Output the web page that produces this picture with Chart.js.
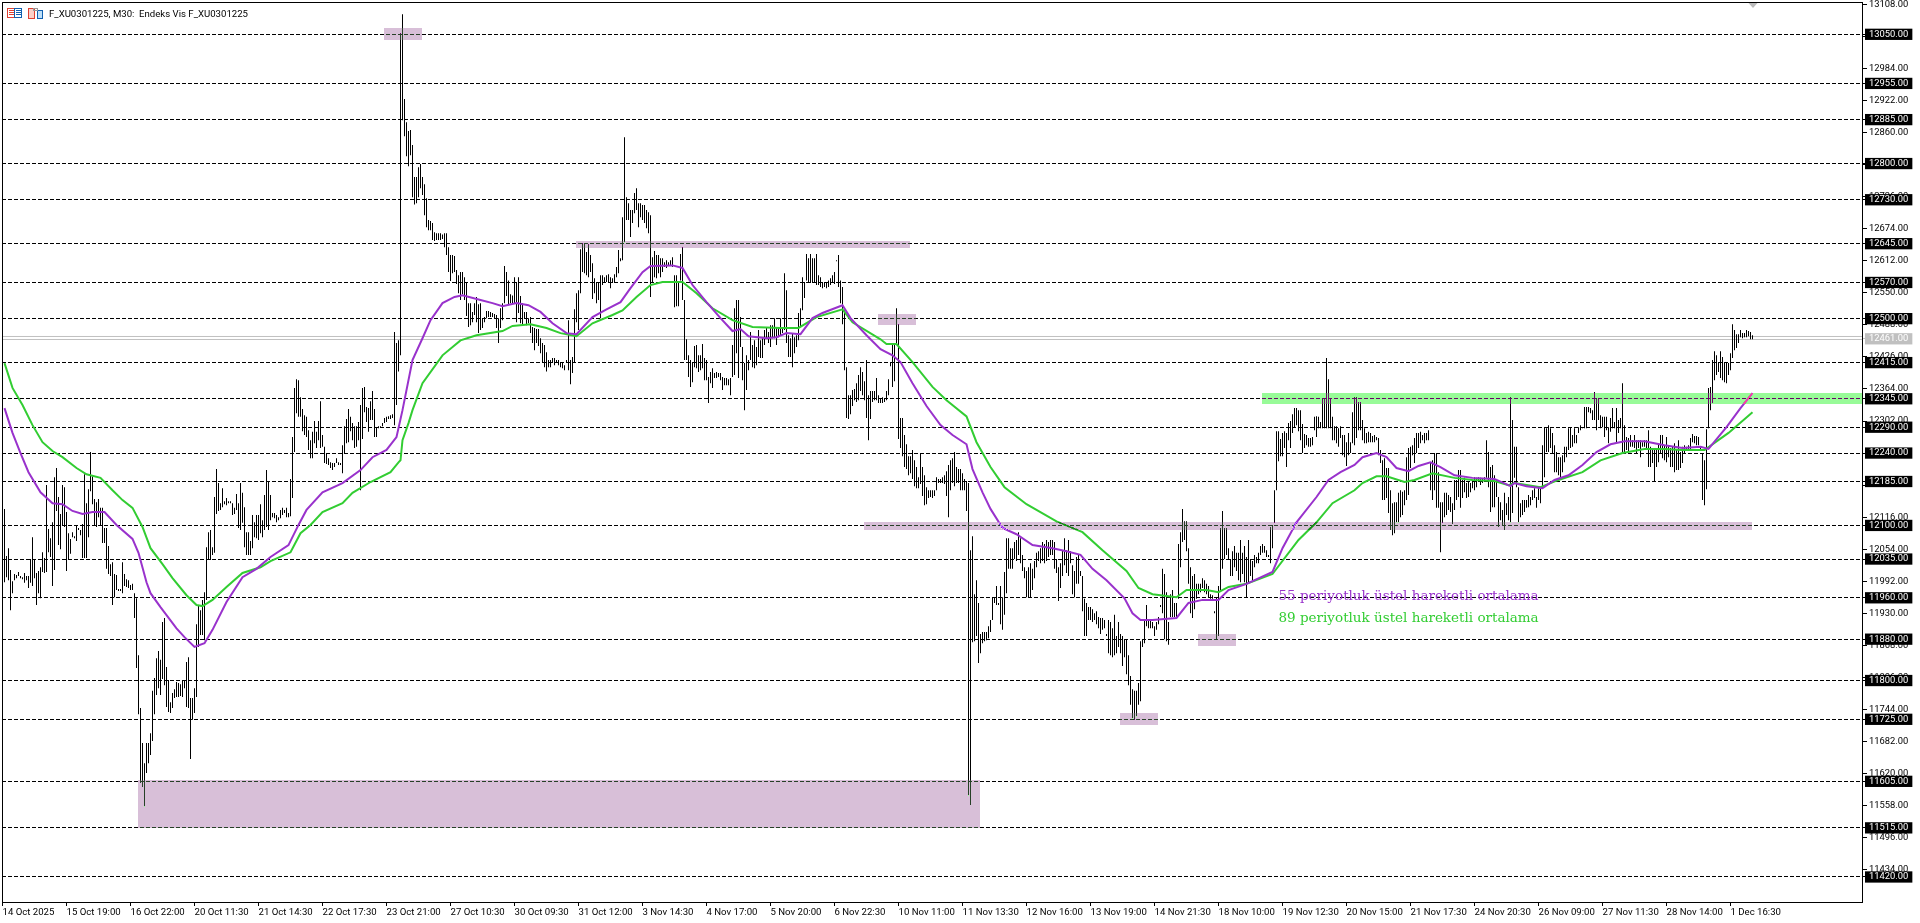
<!DOCTYPE html>
<html><head><meta charset="utf-8"><title>F_XU0301225, M30</title>
<style>html,body{margin:0;padding:0;background:#fff;overflow:hidden}canvas{display:block}</style>
<script src="https://cdn.jsdelivr.net/npm/chart.js@4"></script></head>
<body><canvas id="c" width="1920" height="923"></canvas>
<script>
const titleText = 'F_XU0301225, M30:  Endeks Vis F_XU0301225';
const xTickLabels = ['14 Oct 2025','15 Oct 19:00','16 Oct 22:00','20 Oct 11:30','21 Oct 14:30','22 Oct 17:30','23 Oct 21:00','27 Oct 10:30','30 Oct 09:30','31 Oct 12:00','3 Nov 14:30','4 Nov 17:00','5 Nov 20:00','6 Nov 22:30','10 Nov 11:00','11 Nov 13:30','12 Nov 16:00','13 Nov 19:00','14 Nov 21:30','18 Nov 10:00','19 Nov 12:30','20 Nov 15:00','21 Nov 17:30','24 Nov 20:30','26 Nov 09:00','27 Nov 11:30','28 Nov 14:00','1 Dec 16:30'];
const yAxisTicks = [13108,13046,12984,12922,12860,12798,12736,12674,12612,12550,12488,12426,12364,12302,12240,12178,12116,12054,11992,11930,11868,11806,11744,11682,11620,11558,11496,11434];
const levels = [13050,12955,12885,12800,12730,12645,12570,12500,12415,12345,12290,12240,12185,12100,12035,11960,11880,11800,11725,11605,11515,11420];
const lastPrice = 12461;
const askBidLines = [12465.5,12459.7];
// high, low pairs of each 30-minute bar, 32 bars per row
const hiLo = [
12210,12140,12132,11990,12041,12000,12056,11994,12014,11936,11992,11969,12006,11994,12004,11998,12010,12002,12002,11998,12000,11996,12008,11989,12002,11994,12002,11979,12035,11989,12077,11983,12033,11998,12008,11946,12012,11969,12019,11959,12048,12010,12037,12008,12178,12010,12093,12048,12075,12039,12106,11983,12193,12014,12211,12128,12155,12062,12122,12054,12178,12099,12174,12097,
12126,12012,12085,12035,12074,12045,12087,12077,12079,12075,12101,12070,12095,12091,12091,12081,12103,12037,12199,12037,12143,12037,12170,12077,12242,12166,12195,12141,12151,12099,12145,12097,12151,12116,12134,12101,12134,12066,12095,12066,12095,12016,12060,12006,12025,12002,12029,11946,12006,11961,12004,11975,11977,11973,11977,11973,12029,11969,12006,11983,11996,11981,11994,11979,
11985,11975,11987,11975,11969,11921,11959,11824,11849,11735,11747,11602,11679,11594,11640,11557,11679,11621,11679,11640,11698,11656,11780,11683,11805,11735,11843,11772,11857,11785,11840,11772,11913,11803,11921,11791,11826,11749,11801,11739,11758,11737,11776,11747,11783,11766,11797,11768,11795,11768,11793,11770,11801,11768,11801,11785,11836,11749,11845,11747,11766,11648,11766,11724,
11785,11737,11909,11768,11946,11865,11936,11888,11956,11888,11971,11878,12058,11956,12087,12033,12091,12033,12058,12043,12155,12047,12209,12122,12182,12128,12143,12130,12172,12135,12147,12141,12153,12139,12147,12143,12147,12143,12143,12120,12134,12122,12161,12130,12143,12095,12182,12091,12163,12105,12135,12058,12087,12043,12087,12043,12070,12043,12120,12056,12106,12077,12120,12075,
12120,12072,12141,12085,12110,12077,12159,12091,12207,12097,12186,12091,12159,12110,12124,12116,12124,12114,12120,12106,12116,12110,12130,12114,12134,12120,12130,12124,12134,12116,12124,12116,12190,12118,12271,12153,12366,12242,12383,12317,12381,12310,12348,12310,12325,12282,12313,12275,12310,12271,12284,12246,12265,12230,12281,12230,12302,12259,12281,12250,12302,12265,12340,12250,
12275,12252,12252,12221,12238,12219,12230,12217,12222,12211,12221,12207,12221,12213,12230,12221,12222,12217,12221,12217,12255,12201,12292,12240,12306,12259,12325,12261,12310,12282,12298,12265,12292,12250,12292,12252,12300,12265,12333,12168,12366,12267,12368,12319,12329,12300,12327,12281,12340,12304,12360,12304,12325,12271,12290,12271,12292,12288,12292,12290,12298,12292,12308,12298,
12310,12300,12311,12306,12313,12306,12315,12308,12474,12294,12453,12333,12458,12398,13052,12429,13089,12884,12925,12853,12880,12814,12863,12795,12865,12816,12836,12735,12774,12721,12774,12723,12793,12735,12799,12752,12774,12739,12760,12700,12733,12677,12691,12671,12689,12671,12685,12652,12667,12650,12665,12652,12665,12652,12665,12652,12663,12654,12665,12638,12665,12623,12638,12590,
12623,12573,12623,12588,12621,12590,12594,12567,12584,12549,12590,12536,12590,12547,12580,12536,12571,12505,12530,12484,12530,12487,12513,12493,12530,12507,12542,12493,12528,12472,12530,12478,12501,12482,12503,12493,12515,12501,12515,12503,12513,12503,12511,12503,12509,12501,12507,12482,12501,12453,12520,12482,12530,12497,12602,12530,12590,12544,12574,12528,12547,12530,12545,12530,
12580,12530,12571,12493,12580,12511,12544,12491,12530,12487,12513,12501,12513,12487,12501,12491,12503,12472,12484,12453,12482,12439,12480,12453,12480,12447,12462,12433,12453,12414,12449,12406,12435,12398,12420,12406,12420,12406,12424,12414,12424,12410,12420,12414,12420,12410,12416,12406,12414,12404,12410,12400,12420,12414,12497,12400,12420,12373,12426,12395,12518,12414,12549,12493,
12555,12478,12634,12549,12646,12590,12646,12588,12629,12584,12644,12580,12623,12590,12607,12538,12578,12549,12571,12530,12571,12536,12584,12501,12584,12565,12580,12569,12584,12571,12586,12569,12580,12559,12578,12569,12586,12569,12600,12580,12633,12588,12617,12611,12696,12613,12851,12648,12735,12691,12723,12691,12710,12658,12710,12685,12743,12704,12752,12710,12723,12677,12723,12696,
12720,12691,12720,12685,12710,12675,12706,12665,12700,12542,12619,12571,12631,12580,12623,12578,12623,12588,12617,12580,12617,12590,12609,12600,12613,12598,12609,12603,12613,12603,12619,12600,12584,12522,12584,12524,12569,12524,12625,12574,12638,12536,12536,12420,12460,12420,12429,12387,12420,12368,12414,12377,12447,12406,12449,12404,12429,12397,12429,12400,12451,12404,12424,12381,
12420,12381,12387,12337,12397,12375,12404,12366,12395,12385,12397,12385,12395,12387,12395,12381,12387,12362,12385,12371,12385,12371,12383,12371,12385,12352,12449,12387,12520,12391,12536,12433,12536,12385,12503,12445,12445,12381,12414,12323,12429,12362,12420,12400,12474,12420,12449,12406,12458,12404,12445,12410,12478,12426,12458,12424,12462,12424,12478,12449,12484,12462,12474,12453,
12487,12445,12487,12462,12501,12462,12484,12449,12484,12464,12501,12468,12484,12472,12588,12478,12555,12453,12468,12426,12462,12426,12472,12406,12464,12433,12468,12445,12511,12458,12520,12484,12580,12516,12571,12540,12625,12574,12617,12569,12625,12569,12617,12571,12617,12569,12625,12565,12584,12565,12580,12561,12571,12559,12571,12561,12571,12559,12574,12561,12578,12565,12584,12569,
12590,12567,12613,12611,12623,12561,12574,12530,12561,12489,12516,12400,12406,12308,12352,12306,12352,12315,12362,12331,12364,12342,12375,12339,12391,12342,12406,12360,12397,12352,12379,12342,12420,12308,12352,12265,12360,12306,12360,12339,12360,12342,12385,12342,12352,12337,12346,12337,12348,12337,12346,12339,12360,12342,12383,12352,12416,12408,12449,12368,12449,12379,12520,12449,
12489,12267,12308,12250,12308,12234,12275,12213,12257,12209,12234,12197,12234,12201,12246,12190,12226,12176,12213,12172,12193,12172,12238,12180,12213,12157,12197,12139,12174,12141,12168,12153,12168,12155,12168,12153,12168,12157,12193,12168,12190,12182,12190,12182,12193,12182,12197,12180,12205,12157,12217,12116,12226,12168,12230,12182,12242,12176,12213,12182,12209,12182,12209,12168,
12201,12168,12190,12168,12186,12128,12182,11578,12052,11559,12079,11874,11967,11876,11994,11886,11950,11834,11890,11853,11894,11872,11894,11876,11894,11878,11905,11882,11917,11894,11961,11917,11961,11950,11983,11946,11950,11946,11983,11909,11961,11898,12010,11927,12075,11969,12075,12016,12056,12016,12056,12016,12068,12035,12072,12031,12087,12043,12075,12027,12043,12012,12019,11998,
12012,11961,12019,11961,12027,11961,12016,11975,12031,11998,12047,12019,12050,12031,12056,12027,12068,12031,12064,12027,12072,12031,12068,12039,12072,12043,12072,12043,12068,12016,12035,12008,12019,11954,12027,11979,12052,12002,12075,12023,12052,12008,12072,12002,12050,12027,12023,11967,12012,11961,12039,11987,12043,11987,12012,12002,12002,11934,11958,11886,11950,11886,11942,11917,
11942,11917,11938,11913,11930,11917,11934,11909,11923,11901,11921,11890,11921,11898,11917,11901,11890,11886,11917,11853,11913,11849,11901,11845,11927,11849,11886,11853,11913,11865,11890,11853,11886,11828,11880,11845,11880,11812,11849,11791,11809,11753,11783,11727,11780,11724,11780,11731,11795,11753,11876,11760,11880,11865,11917,11872,11946,11905,11917,11901,11917,11901,11913,11901,
11905,11886,11913,11898,11923,11909,11946,11942,12016,11930,12006,11880,11971,11876,11913,11869,11967,11923,11975,11923,11950,11923,11950,11923,12064,11958,12087,12019,12132,12068,12108,12072,12108,12050,12056,11987,12019,11930,12002,11921,12006,11938,11987,11958,11987,11967,11987,11971,11998,11979,11994,11971,11987,11967,11983,11961,11967,11958,11965,11958,11934,11930,11961,11880,
11983,11886,12095,11975,12128,12016,12095,12035,12095,12043,12056,12035,12035,12002,12050,12002,12060,12019,12047,12012,12047,11994,12072,11990,12047,12006,12060,11990,12039,11961,12072,11987,12035,12002,12031,11994,12043,12019,12039,12027,12047,12027,12060,12043,12064,12047,12060,12047,12052,12039,12043,12039,12097,12027,12101,12056,12168,12105,12282,12168,12282,12224,12267,12234,
12279,12234,12282,12250,12279,12213,12298,12265,12302,12250,12315,12279,12327,12290,12327,12294,12323,12282,12323,12265,12296,12240,12277,12250,12275,12255,12269,12252,12269,12252,12271,12255,12310,12284,12311,12271,12310,12288,12300,12288,12344,12288,12346,12288,12424,12288,12383,12288,12346,12288,12310,12265,12292,12265,12292,12259,12288,12252,12292,12269,12275,12236,12275,12232,
12261,12215,12279,12236,12261,12240,12319,12259,12348,12255,12348,12269,12339,12284,12339,12284,12304,12265,12288,12259,12279,12259,12281,12261,12279,12261,12273,12261,12275,12261,12271,12265,12269,12236,12246,12221,12226,12149,12230,12149,12211,12153,12211,12124,12168,12091,12143,12081,12145,12085,12145,12106,12163,12106,12168,12116,12165,12120,12168,12139,12232,12149,12250,12159,
12252,12211,12255,12236,12269,12221,12279,12240,12279,12250,12281,12259,12275,12265,12279,12259,12279,12265,12284,12265,12221,12168,12226,12149,12240,12168,12240,12134,12203,12134,12145,12048,12145,12105,12163,12116,12163,12120,12159,12130,12155,12126,12143,12103,12188,12130,12188,12149,12207,12155,12207,12134,12188,12153,12192,12164,12182,12153,12184,12155,12182,12164,12188,12172,
12193,12168,12192,12174,12193,12184,12192,12178,12190,12182,12193,12184,12265,12192,12242,12174,12213,12126,12217,12135,12197,12135,12188,12155,12155,12097,12145,12110,12130,12101,12163,12091,12143,12120,12155,12110,12348,12106,12304,12124,12252,12192,12252,12174,12174,12106,12143,12116,12149,12120,12149,12126,12149,12134,12159,12135,12155,12139,12168,12149,12172,12153,12155,12134,
12172,12149,12172,12143,12255,12172,12290,12193,12288,12242,12294,12242,12288,12250,12279,12240,12255,12203,12242,12203,12232,12197,12232,12193,12236,12203,12252,12222,12252,12232,12288,12246,12290,12250,12275,12252,12288,12259,12275,12259,12290,12279,12294,12284,12290,12288,12329,12288,12329,12288,12329,12319,12327,12317,12323,12304,12358,12304,12346,12284,12346,12304,12313,12288,
12310,12290,12310,12271,12310,12284,12290,12259,12308,12281,12327,12288,12300,12288,12327,12259,12304,12279,12308,12288,12375,12240,12294,12242,12271,12246,12269,12242,12275,12252,12265,12252,12275,12250,12265,12240,12265,12250,12265,12232,12261,12252,12265,12252,12265,12250,12284,12213,12252,12213,12246,12221,12250,12184,12246,12213,12259,12222,12275,12240,12275,12230,12255,12226,
12271,12222,12255,12232,12250,12213,12252,12213,12259,12203,12246,12207,12265,12207,12242,12211,12252,12221,12255,12240,12252,12246,12255,12246,12269,12246,12277,12261,12273,12259,12273,12255,12271,12255,12252,12246,12238,12149,12226,12139,12286,12170,12366,12288,12368,12323,12420,12337,12437,12381,12429,12391,12416,12397,12437,12385,12426,12381,12416,12377,12416,12375,12414,12391,
12433,12400,12489,12424,12478,12439,12470,12443,12470,12453,12478,12464,12472,12462,12472,12464,12478,12464,12476,12466,12474,12460,12468,12460
];
const ema55Bars = [1,5,9,13,19,25,30,35,40,45,51,57,65,68,72,74,79,87,91,96,101,105,112,120,127,134,143,148,152,160,170,179,185,192,197,200,205,210,214,220,226,230,239,245,250,257,263,269,275,282,287,295,302,309,314,320,324,335,340,345,352,359,365,369,373,382,387,392,399,405,410,420,424,432,439,445,449,455,462,469,475,482,485,490,494,500,507,515,525,532,539,545,552,561,565,569,575,587,593,600,608,613,622,635,640,647,657,663,669,676,680,687,692,697,703,708,714,719,726,735,746,754,756,762,770,776,783,790,797,804,811,821,831,840,849,853,862,869,875];
const ema55 = [12327,12279,12240,12203,12164,12143,12141,12128,12122,12126,12126,12101,12074,12047,11990,11969,11942,11901,11884,11865,11872,11898,11952,12000,12016,12039,12062,12101,12130,12164,12182,12207,12232,12246,12271,12323,12420,12462,12497,12530,12542,12545,12536,12530,12524,12530,12526,12513,12491,12472,12470,12503,12518,12532,12559,12590,12602,12603,12598,12565,12532,12501,12476,12480,12466,12462,12464,12472,12470,12501,12511,12526,12501,12468,12441,12429,12416,12375,12331,12294,12275,12257,12209,12164,12132,12095,12083,12062,12056,12050,12043,12016,11994,11959,11930,11917,11917,11921,11950,11956,11956,11975,11987,12010,12056,12106,12155,12188,12203,12217,12232,12240,12232,12211,12205,12215,12222,12213,12197,12192,12190,12176,12182,12176,12172,12188,12197,12217,12242,12257,12263,12263,12255,12250,12252,12248,12290,12327,12356];
const ema89Bars = [1,5,10,15,20,25,30,37,42,49,55,60,65,70,74,80,85,92,97,100,105,112,120,129,134,144,149,154,160,170,175,184,194,198,199,200,203,205,210,220,229,237,250,255,264,272,279,287,295,305,310,317,324,330,340,347,355,365,375,389,398,407,420,425,439,442,447,455,465,472,482,487,494,501,512,527,540,550,562,568,575,587,592,602,608,613,622,635,648,657,665,676,680,687,692,701,706,715,726,735,746,753,756,769,778,790,799,810,821,831,840,851,863,875];
const ema89 = [12414,12366,12333,12294,12261,12244,12232,12211,12199,12192,12168,12149,12134,12097,12056,12025,11998,11965,11946,11944,11956,11981,12008,12019,12031,12048,12085,12101,12126,12143,12163,12184,12203,12222,12226,12265,12298,12323,12375,12429,12458,12468,12476,12486,12489,12482,12472,12466,12491,12507,12516,12542,12565,12571,12571,12549,12520,12497,12484,12482,12482,12503,12518,12493,12460,12451,12451,12416,12368,12342,12311,12261,12213,12174,12141,12108,12087,12052,12012,11979,11967,11961,11975,11975,11971,11981,11987,12006,12072,12106,12143,12168,12182,12195,12195,12184,12188,12201,12192,12188,12186,12178,12182,12174,12188,12203,12226,12240,12248,12248,12246,12246,12279,12319];
const zoneFromBar = [191,287,438,630,431,598,559,68];
const zoneToBar   = [210,454,457,930,875,617,578,489];
const zoneTop     = [13062,12650,12509,12356,12106,11890,11737,11607];
const zoneBottom  = [13039,12636,12488,12335,12091,11867,11714,11515];
const zoneColor   = ['#D8BFD8','#D8BFD8','#D8BFD8','#98FB98','#D8BFD8','#D8BFD8','#D8BFD8','#D8BFD8'];
const noteTexts = ['55 periyotluk üstel hareketli ortalama','89 periyotluk üstel hareketli ortalama'];
const noteColors = ['#9932CC','#32CD32'];
const noteBar = [638,638];
const notePrice = [11956,11913];

const barsData = [];
for (let i = 0; i * 2 < hiLo.length; i++) barsData.push({x: i, y: [hiLo[2*i+1], hiLo[2*i]]});
const pairUp = (xs, ys) => xs.map((x, i) => ({x, y: ys[i]}));
const X_MIN = -0.25, X_MAX = 929.75;
const FONT = 'Roboto,"Liberation Sans",sans-serif';

const whiteBack = {
  id: 'whiteBack',
  beforeDraw(chart) {
    const {ctx, width, height} = chart;
    ctx.save(); ctx.fillStyle = '#fff'; ctx.fillRect(0, 0, width, height); ctx.restore();
  }
};
const xorZones = {
  id: 'xorZones',
  afterDraw(chart) {
    const {ctx, scales: {x, y}} = chart;
    zoneFromBar.forEach((b, k) => {
      const x0 = Math.floor(x.getPixelForValue(b));
      const x1 = Math.floor(x.getPixelForValue(zoneToBar[k]));
      const y0 = Math.round(y.getPixelForValue(zoneTop[k]));
      const y1 = Math.round(y.getPixelForValue(zoneBottom[k]));
      const hex = zoneColor[k];
      const c = [1,3,5].map(n => 255 - parseInt(hex.substr(n, 2), 16));
      const im = ctx.getImageData(x0, y0, x1 - x0, y1 - y0);
      for (let p = 0; p < im.data.length; p += 4) {
        im.data[p] ^= c[0]; im.data[p+1] ^= c[1]; im.data[p+2] ^= c[2];
      }
      ctx.putImageData(im, x0, y0);
    });
  }
};
const decor = {
  id: 'decor',
  afterDraw(chart) {
    const {ctx, chartArea: a, scales: {x, y}} = chart;
    ctx.save();
    ctx.strokeStyle = '#000'; ctx.lineWidth = 1;
    ctx.strokeRect(a.left + .5, a.top + .5, a.right - a.left, a.bottom - a.top);
    ctx.fillStyle = '#000'; ctx.font = '9.6px Roboto,"Liberation Sans",sans-serif';
    ctx.textBaseline = 'alphabetic'; ctx.textAlign = 'left';
    ctx.fillText(titleText, 49, 17);
    ctx.lineWidth = 1;
    ctx.strokeStyle = '#E04030'; ctx.strokeRect(7.5, 8.5, 7, 9);
    ctx.strokeStyle = '#1060B0'; ctx.strokeRect(14.5, 8.5, 7, 9);
    ctx.beginPath(); ctx.strokeStyle = '#E04030';
    [10.5, 12.5, 14.5].forEach(v => { ctx.moveTo(9, v); ctx.lineTo(14, v); });
    ctx.stroke();
    ctx.beginPath(); ctx.strokeStyle = '#1060B0';
    [10.5, 12.5, 14.5].forEach(v => { ctx.moveTo(16, v); ctx.lineTo(21, v); });
    ctx.stroke();
    ctx.fillStyle = '#FBD0C8'; ctx.fillRect(29, 9, 5, 9);
    ctx.strokeStyle = '#E04030'; ctx.strokeRect(28.5, 8.5, 6, 10);
    ctx.fillStyle = '#BFE0F8'; ctx.fillRect(38, 11, 4, 7);
    ctx.strokeStyle = '#1060B0'; ctx.strokeRect(37.5, 10.5, 5, 8);
    ctx.strokeStyle = '#999'; ctx.strokeRect(33.5, 8.5, 4, 2);
    ctx.fillStyle = '#BBBBBB';
    const m = x.getPixelForValue(hiLo.length / 2 - 1);
    ctx.beginPath(); ctx.moveTo(m - 4, 3); ctx.lineTo(m + 5, 3); ctx.lineTo(m + .5, 8); ctx.closePath(); ctx.fill();
    ctx.font = '13.5px "DejaVu Serif",serif';
    noteTexts.forEach((t, k) => {
      ctx.fillStyle = noteColors[k];
      ctx.fillText(t, x.getPixelForValue(noteBar[k]), y.getPixelForValue(notePrice[k]));
    });
    ctx.restore();
  }
};

new Chart(document.getElementById('c'), {
  data: {
    datasets: [
      {type:'line', order:1, data: pairUp(ema55Bars, ema55), borderColor:'#9932CC', borderWidth:2, pointRadius:0, tension:0},
      {type:'line', order:2, data: pairUp(ema89Bars, ema89), borderColor:'#32CD32', borderWidth:2, pointRadius:0, tension:0},
      {type:'bar', order:3, data: barsData, backgroundColor:'#000', borderWidth:0, barThickness:1, inflateAmount:0, grouped:false},
      {type:'line', order:4, data: pairUp([X_MIN, X_MAX], [askBidLines[0], askBidLines[0]]), borderColor:'#C0C0C0', borderWidth:1, pointRadius:0},
      {type:'line', order:4, data: pairUp([X_MIN, X_MAX], [askBidLines[1], askBidLines[1]]), borderColor:'#C0C0C0', borderWidth:1, pointRadius:0}
    ]
  },
  options: {
    responsive:false, animation:false, events:[],
    layout:{padding:{left:2, top:2, right:0, bottom:0}},
    plugins:{legend:{display:false}, tooltip:{enabled:false}, title:{display:false}},
    scales:{
      x:{
        type:'linear', offset:false, min:X_MIN, max:X_MAX,
        afterFit(s){ s.height = 21; s.paddingLeft = 0; s.paddingRight = 0; },
        afterBuildTicks(s){ s.ticks = xTickLabels.map((_, k) => ({value: k * 32})); },
        grid:{offset:false, drawOnChartArea:false, tickLength:4, tickColor:'#000'},
        border:{color:'#000', width:1},
        ticks:{autoSkip:false, maxRotation:0, minRotation:0, align:'start', padding:1, color:'#000',
          font:{family:FONT, size:9.6},
          callback: v => xTickLabels[Math.round(v / 32)]}
      },
      y:{
        type:'linear', position:'right', min:11371.6, max:13112.5,
        afterFit(s){ s.width = 58; s.paddingTop = 0; s.paddingBottom = 0; },
        afterBuildTicks(s){
          s.ticks = yAxisTicks.concat(levels, lastPrice).map(v => ({value: v}));
        },
        grid:{
          tickLength:5,
          color: c => (c.index >= yAxisTicks.length && c.index < yAxisTicks.length + levels.length) ? '#000' : 'rgba(0,0,0,0)',
          tickColor: c => c.index < yAxisTicks.length + levels.length ? '#000' : '#C0C0C0'
        },
        border:{color:'#000', width:1, dash:[4,2]},
        ticks:{
          autoSkip:false, padding:2, font:{family:FONT, size:9.4},
          showLabelBackdrop: c => c.index >= yAxisTicks.length,
          backdropColor: c => c.index < yAxisTicks.length + levels.length ? '#000' : '#C0C0C0',
          backdropPadding:{left:4, right:4, top:0, bottom:0},
          color: c => c.index >= yAxisTicks.length ? '#fff' : '#000',
          callback: v => v.toFixed(2)
        }
      }
    }
  },
  plugins:[whiteBack, xorZones, decor]
});
</script></body></html>
